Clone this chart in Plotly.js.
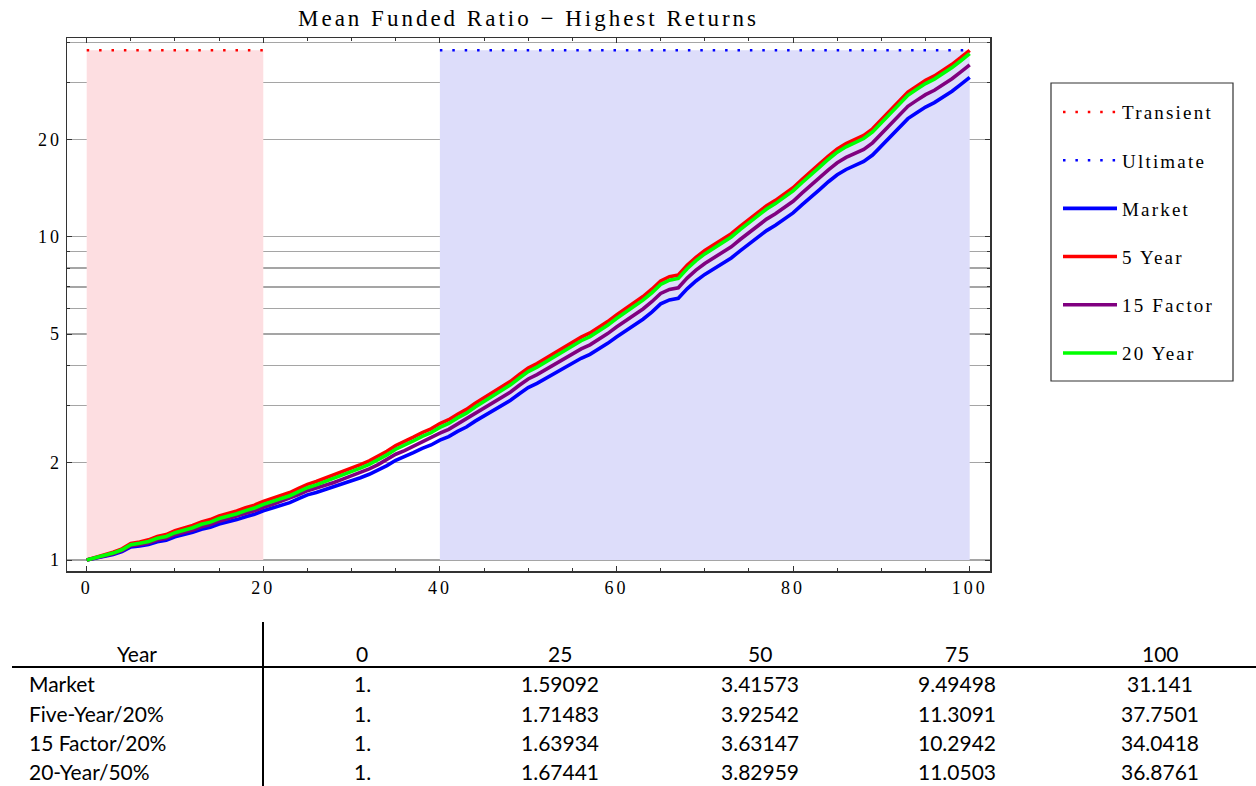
<!DOCTYPE html>
<html>
<head>
<meta charset="utf-8">
<script src="https://cdn.plot.ly/plotly-3.0.1.min.js"></script>
<style>
  html, body { margin: 0; padding: 0; background: #ffffff; }
  #chart { width: 1256px; height: 786px; }
  /* Mathematica-style wide tracking for the serif text */
  .gtitle { letter-spacing: 3px; }
  .xtick text, .ytick text { letter-spacing: 3px; }
  .legendtext { letter-spacing: 2.2px; }
</style>
</head>
<body>
<div id="chart"></div>
<script>
// Simulation horizon in years
const years = Array.from({ length: 101 }, (_, i) => i);

// Mean funded ratio paths, one value per year (0..100)
const market = [
  1.000, 1.012, 1.030, 1.041, 1.062, 1.098, 1.106, 1.118, 1.140, 1.152,
  1.180, 1.196, 1.218, 1.245, 1.262, 1.292, 1.312, 1.334, 1.362, 1.385,
  1.420, 1.445, 1.478, 1.505, 1.548, 1.59092, 1.618, 1.652, 1.680, 1.718,
  1.755, 1.798, 1.842, 1.895, 1.960, 2.035, 2.085, 2.150, 2.215, 2.270,
  2.350, 2.410, 2.500, 2.580, 2.690, 2.790, 2.900, 3.000, 3.120, 3.270,
  3.41573, 3.520, 3.650, 3.760, 3.900, 4.060, 4.210, 4.330, 4.500, 4.680,
  4.900, 5.100, 5.320, 5.560, 5.850, 6.200, 6.380, 6.450, 6.900, 7.300,
  7.650, 7.950, 8.250, 8.600, 9.050, 9.49498, 10.00, 10.45, 10.85, 11.30,
  11.85, 12.55, 13.30, 14.00, 14.80, 15.55, 16.15, 16.60, 17.10, 17.90,
  19.10, 20.50, 21.90, 23.20, 24.20, 25.20, 26.00, 27.00, 28.20, 29.60,
  31.141
];
const fiveYear = [
  1.000, 1.017, 1.040, 1.057, 1.083, 1.125, 1.138, 1.155, 1.182, 1.199,
  1.233, 1.253, 1.280, 1.312, 1.334, 1.370, 1.393, 1.419, 1.452, 1.479,
  1.519, 1.548, 1.586, 1.617, 1.666, 1.71483, 1.750, 1.792, 1.828, 1.875,
  1.922, 1.974, 2.028, 2.092, 2.170, 2.259, 2.321, 2.399, 2.479, 2.547,
  2.644, 2.718, 2.826, 2.923, 3.054, 3.175, 3.307, 3.428, 3.571, 3.751,
  3.92542, 4.053, 4.210, 4.345, 4.515, 4.710, 4.892, 5.040, 5.247, 5.466,
  5.733, 5.975, 6.241, 6.532, 6.882, 7.304, 7.525, 7.616, 8.157, 8.640,
  9.065, 9.430, 9.796, 10.223, 10.769, 11.3091, 11.923, 12.472, 12.961, 13.513,
  14.184, 15.035, 15.947, 16.800, 17.775, 18.691, 19.425, 19.980, 20.595, 21.573,
  23.035, 24.735, 26.438, 28.021, 29.243, 30.467, 31.450, 32.678, 34.147, 35.863,
  37.7501
];
const fifteenFactor = [
  1.000, 1.014, 1.033, 1.046, 1.069, 1.107, 1.116, 1.130, 1.154, 1.168,
  1.198, 1.215, 1.239, 1.268, 1.287, 1.319, 1.341, 1.365, 1.395, 1.420,
  1.457, 1.484, 1.519, 1.548, 1.594, 1.63934, 1.669, 1.707, 1.738, 1.779,
  1.820, 1.867, 1.915, 1.973, 2.043, 2.125, 2.180, 2.251, 2.322, 2.383,
  2.470, 2.536, 2.634, 2.721, 2.840, 2.949, 3.069, 3.179, 3.309, 3.473,
  3.63147, 3.746, 3.888, 4.009, 4.163, 4.336, 4.500, 4.633, 4.820, 5.017,
  5.258, 5.476, 5.717, 5.979, 6.296, 6.677, 6.876, 6.957, 7.448, 7.885,
  8.270, 8.599, 8.929, 9.313, 9.807, 10.2942, 10.848, 11.342, 11.782, 12.277,
  12.881, 13.647, 14.468, 15.235, 16.111, 16.934, 17.594, 18.091, 18.642, 19.522,
  20.838, 22.370, 23.902, 25.325, 26.422, 27.518, 28.397, 29.498, 30.814, 32.353,
  34.0418
];
const twentyYear = [
  1.000, 1.015, 1.037, 1.051, 1.076, 1.116, 1.127, 1.142, 1.168, 1.183,
  1.215, 1.234, 1.259, 1.290, 1.310, 1.344, 1.366, 1.391, 1.422, 1.448,
  1.487, 1.515, 1.551, 1.581, 1.628, 1.67441, 1.708, 1.748, 1.783, 1.828,
  1.873, 1.924, 1.976, 2.039, 2.115, 2.202, 2.261, 2.337, 2.414, 2.480,
  2.573, 2.646, 2.752, 2.847, 2.976, 3.094, 3.223, 3.341, 3.483, 3.658,
  3.82959, 3.954, 4.107, 4.238, 4.404, 4.592, 4.769, 4.913, 5.114, 5.327,
  5.586, 5.823, 6.084, 6.368, 6.711, 7.124, 7.341, 7.432, 7.961, 8.434,
  8.851, 9.209, 9.568, 9.985, 10.520, 11.0503, 11.650, 12.188, 12.667, 13.207,
  13.865, 14.696, 15.588, 16.422, 17.375, 18.271, 18.989, 19.532, 20.134, 21.090,
  22.519, 24.182, 25.846, 27.395, 28.590, 29.786, 30.742, 31.938, 33.369, 35.040,
  36.8761
];

// Glide-path phases (years)
const transientSpan = [0, 20];
const ultimateSpan = [40, 100];

// Axis ticks and reference lines
const xTicks = [0, 20, 40, 60, 80, 100];
const xMinorTicks = [5, 10, 15, 25, 30, 35, 45, 50, 55, 65, 70, 75, 85, 90, 95];
const xGrid = [20, 40, 60, 80];
const yTicks = [1, 2, 5, 10, 20];
const yMinorGrid = [3, 4, 6, 7, 8, 9, 30, 40];

// Summary table
const tableYears = [0, 25, 50, 75, 100];
const tableRowNames = ['Market', 'Five-Year/20%', '15 Factor/20%', '20-Year/50%'];

const seriesNames = ['Market', '5 Year', '15 Factor', '20 Year'];
const seriesValues = [market, fiveYear, fifteenFactor, twentyYear];
const seriesColors = ['#0000ff', '#ff0000', '#800080', '#00ff00'];

// Plot geometry (px)
const W = 1256, H = 786;
const ML = 67, MR = 266, MT = 38, MB = 215;
const PW = W - ML - MR, PH = H - MT - MB;
const px2x = px => (px - ML) / PW;
const py2y = py => (H - MB - py) / PH;

const topLevel = Math.max(...fiveYear);
const serif = 'Liberation Serif, Times New Roman, serif';
const sans = 'Lato, Noto Sans, sans-serif';

const traces = [];

// Shaded phase bands: baseline at 1, filled up to the top level
function band(span, color) {
  return [
    { x: span, y: [1, 1], mode: 'lines', line: { width: 0, color: color },
      hoverinfo: 'skip', showlegend: false },
    { x: span, y: [topLevel, topLevel], mode: 'lines', line: { width: 0, color: color },
      fill: 'tonexty', fillcolor: color, hoverinfo: 'skip', showlegend: false }
  ];
}
traces.push(...band(transientSpan, 'rgb(253,222,225)'));
traces.push(...band(ultimateSpan, 'rgb(221,221,250)'));

traces.push({
  x: transientSpan, y: [topLevel, topLevel], name: 'Transient', mode: 'lines',
  line: { color: '#ff0000', width: 2.5, dash: '2.5px,9.9px' }, legendgroup: 'a'
});
traces.push({
  x: ultimateSpan, y: [topLevel, topLevel], name: 'Ultimate', mode: 'lines',
  line: { color: '#0000ff', width: 2.5, dash: '2.5px,9.9px' }, legendgroup: 'b'
});
seriesNames.forEach((name, i) => {
  traces.push({
    x: years, y: seriesValues[i], name: name, mode: 'lines',
    line: { color: seriesColors[i], width: 3.6 }, legendgroup: 'g' + i
  });
});

// Table text
const annotations = [];
const colX = [362, 560, 760, 957, 1160];
const rowY = [683, 713, 742, 771];
const fmt = v => (Number.isInteger(v) ? v + '.' : String(v));
const cellFont = { family: sans, size: 21, color: '#000' };
annotations.push({
  xref: 'paper', yref: 'paper', x: px2x(137), y: py2y(653), text: 'Year',
  showarrow: false, xanchor: 'center', yanchor: 'middle', font: cellFont
});
tableYears.forEach((yr, j) => {
  annotations.push({
    xref: 'paper', yref: 'paper', x: px2x(colX[j]), y: py2y(653), text: String(yr),
    showarrow: false, xanchor: 'center', yanchor: 'middle', font: cellFont
  });
});
tableRowNames.forEach((rn, i) => {
  annotations.push({
    xref: 'paper', yref: 'paper', x: px2x(27), y: py2y(rowY[i]), text: rn,
    showarrow: false, xanchor: 'left', yanchor: 'middle', font: cellFont
  });
  tableYears.forEach((yr, j) => {
    annotations.push({
      xref: 'paper', yref: 'paper', x: px2x(colX[j]), y: py2y(rowY[i]),
      text: fmt(seriesValues[i][yr]),
      showarrow: false, xanchor: 'center', yanchor: 'middle', font: cellFont
    });
  });
});

const shapes = [
  // table rules
  { type: 'line', xref: 'paper', yref: 'paper', x0: px2x(12), x1: px2x(1256),
    y0: py2y(667), y1: py2y(667), line: { color: '#000', width: 2 } },
  { type: 'line', xref: 'paper', yref: 'paper', x0: px2x(263), x1: px2x(263),
    y0: py2y(622), y1: py2y(786), line: { color: '#000', width: 2 } },
  // legend frame
  { type: 'rect', xref: 'paper', yref: 'paper', x0: px2x(1051), x1: px2x(1233),
    y0: py2y(381), y1: py2y(83), line: { color: '#333', width: 1.2 }, fillcolor: 'rgba(0,0,0,0)' }
];

const gridColor = 'rgba(55,55,55,0.45)';
const layout = {
  width: W, height: H,
  margin: { l: ML, r: MR, t: MT, b: MB, pad: 0 },
  paper_bgcolor: '#ffffff', plot_bgcolor: '#ffffff',
  title: {
    text: 'Mean Funded Ratio \u2212 Highest Returns',
    xref: 'paper', x: 0.5, xanchor: 'center',
    yref: 'container', y: 1 - 18 / H, yanchor: 'middle',
    font: { family: serif, size: 23, color: '#000' }
  },
  showlegend: true,
  legend: {
    x: px2x(1058), y: py2y(84), xanchor: 'left', yanchor: 'top',
    bgcolor: 'rgba(0,0,0,0)', borderwidth: 0,
    font: { family: serif, size: 19, color: '#000' },
    title: { text: ' ', font: { family: serif, size: 7 } },
    tracegroupgap: 20.5, itemwidth: 54
  },
  xaxis: {
    range: [-2.23, 102.3], tickmode: 'array', tickvals: xTicks,
    ticks: 'inside', ticklen: 5, tickcolor: '#333',
    showline: true, linecolor: '#333', linewidth: 1.5, mirror: 'allticks',
    showgrid: false, zeroline: false,
    minor: { tickmode: 'array', tickvals: xMinorTicks, ticks: 'inside', ticklen: 3, tickcolor: '#333', showgrid: false },
    tickfont: { family: serif, size: 18, color: '#000' }
  },
  xaxis2: {
    overlaying: 'x', anchor: 'y', range: [-2.23, 102.3],
    tickmode: 'array', tickvals: xGrid, showticklabels: false, ticks: '',
    showgrid: true, gridcolor: 'rgba(50,50,80,0.5)', gridwidth: 1.3,
    showline: false, zeroline: false
  },
  yaxis: {
    type: 'log', range: [Math.log10(0.925), Math.log10(41.2)],
    tickmode: 'array', tickvals: yTicks, ticktext: yTicks.map(String),
    ticks: 'inside', ticklen: 5, tickcolor: '#333',
    showline: true, linecolor: '#333', linewidth: 1.5, mirror: 'allticks',
    showgrid: true, gridcolor: gridColor, gridwidth: 1.3, zeroline: false,
    minor: { tickmode: 'array', tickvals: yMinorGrid, ticks: 'inside', ticklen: 3, tickcolor: '#333',
             showgrid: true, gridcolor: gridColor, gridwidth: 1.3 },
    tickfont: { family: serif, size: 18, color: '#000' }
  },
  annotations: annotations,
  shapes: shapes
};

Plotly.newPlot('chart', traces, layout, { displayModeBar: false, staticPlot: true });
</script>
</body>
</html>
